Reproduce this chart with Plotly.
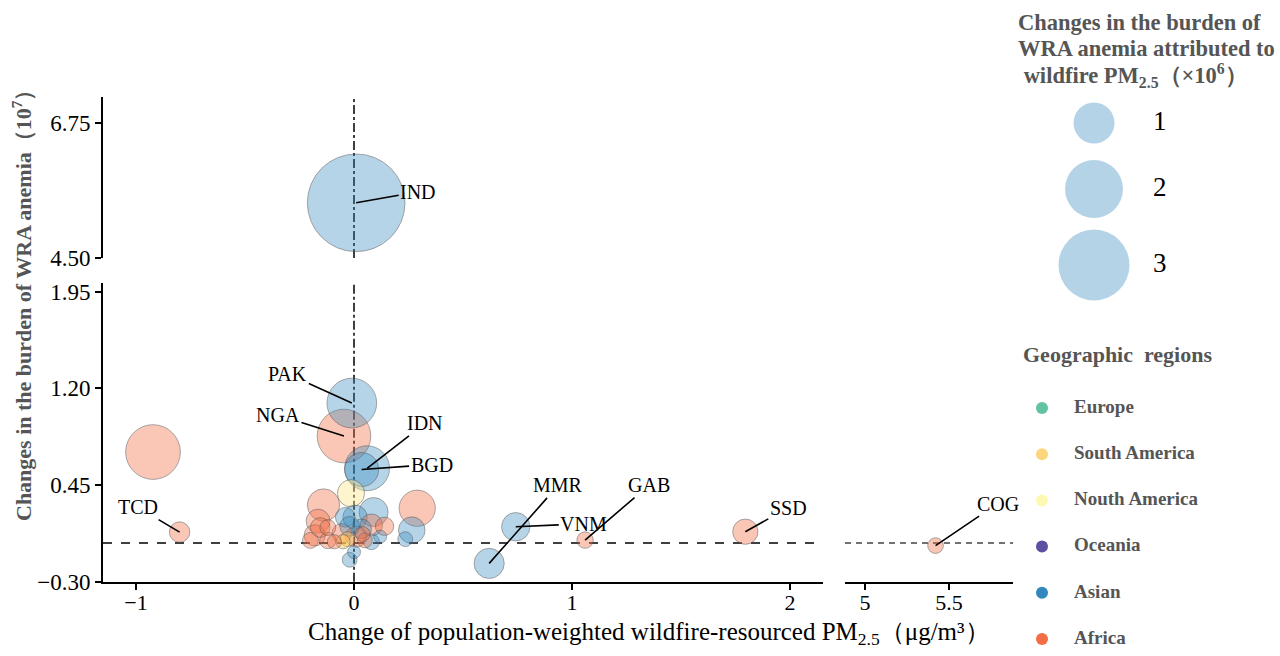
import plotly.graph_objects as go

# ---------------- data ----------------
labels = ["IND", "PAK", "NGA", "", "TCD", "IDN", "BGD", "", "", "",
          "", "", "", "", "", "", "", "", "", "",
          "", "", "", "", "", "", "", "", "", "",
          "VNM", "MMR", "GAB", "SSD", "COG", "",
          "", "", "", "", ""]
regions = ["Asian", "Asian", "Africa", "Africa", "Africa", "Asian", "Asian", "Nouth America", "Africa", "Africa",
           "Asian", "Asian", "Asian", "Asian", "Africa", "Africa", "Africa", "Africa", "Africa", "South America",
           "Africa", "Africa", "Africa", "Asian", "Asian", "Asian", "Africa", "Asian", "Africa", "Asian",
           "Asian", "Asian", "Africa", "Africa", "Africa", "South America",
           "Africa", "Asian", "Africa", "Asian", "Africa"]
pm25_change = [0.01, -0.01, -0.046, -0.922, -0.80, 0.06, 0.035, -0.014, -0.14, 0.29,
               0.265, 0.235, 0.09, 0.005, -0.165, -0.18, -0.20, -0.12, -0.056, -0.05,
               0.01, 0.08, 0.14, 0.08, 0.0, -0.02, -0.09, 0.035, 0.05, -0.04,
               0.742, 0.62, 1.06, 1.795, 5.42, -0.03,
               -0.155, -0.02, 0.04, 0.12, -0.12]
anemia_change = [5.42, 1.086, 0.83, 0.706, 0.085, 0.58, 0.57, 0.386, 0.295, 0.27,
                 0.10, 0.03, 0.24, 0.20, 0.17, 0.06, 0.02, 0.02, 0.075, 0.01,
                 0.05, 0.14, 0.13, 0.01, -0.07, -0.13, 0.01, 0.11, 0.02, 0.20,
                 0.126, -0.158, 0.023, 0.088, -0.02, 0.03,
                 0.12, 0.13, 0.07, 0.05, 0.12]
attributable = [5.67, 1.47, 1.71, 1.78, 0.25, 1.2, 0.69, 0.44, 0.62, 0.78,
                0.42, 0.13, 0.5, 0.35, 0.34, 0.27, 0.15, 0.16, 0.23, 0.12,
                0.27, 0.29, 0.2, 0.15, 0.10, 0.13, 0.12, 0.23, 0.13, 0.23,
                0.48, 0.54, 0.16, 0.38, 0.145, 0.13,
                0.23, 0.23, 0.13, 0.10, 0.15]

# label text offsets (px) from bubble
label_offsets = {"IND": (62, -11), "PAK": (-64, -29), "NGA": (-66, -21), "IDN": (58, -45),
                 "BGD": (70, -5), "TCD": (-42, -25), "MMR": (69, -78), "VNM": (68, -3),
                 "GAB": (64, -55), "SSD": (43, -24), "COG": (62, -42)}

region_names = ["Europe", "South America", "Nouth America", "Oceania", "Asian", "Africa"]
region_colors = ["#62c3a2", "#fdd57d", "#fdf9b2", "#5e4fa2", "#3288bd", "#f46d43"]
bubble_fill = {"Asian": "rgba(50,136,189,0.5)", "Africa": "rgba(244,109,67,0.55)",
               "Nouth America": "rgba(253,231,140,0.6)", "South America": "rgba(250,200,90,0.65)",
               "Europe": "rgba(102,194,165,0.55)", "Oceania": "rgba(94,79,162,0.55)"}

size_legend_values = [1, 2, 3]

# ---------------- figure ----------------
W, H = 1280, 656
FONT = "Liberation Serif"
R1 = 20.5  # radius px for a value of 1
SIZEREF = 1.0 / (2 * R1 ** 2)

fig = go.Figure()

order = sorted(range(len(labels)), key=lambda i: -attributable[i])
for panel in ["upper", "lower", "right"]:
    idx = []
    for i in order:
        if anemia_change[i] > 3:
            p = "upper"
        elif pm25_change[i] > 3:
            p = "right"
        else:
            p = "lower"
        if p == panel:
            idx.append(i)
    xa = "x2" if panel == "right" else "x"
    ya = "y2" if panel == "upper" else "y"
    fig.add_trace(go.Scatter(
        x=[pm25_change[i] for i in idx], y=[anemia_change[i] for i in idx],
        mode="markers", xaxis=xa, yaxis=ya, showlegend=False, cliponaxis=False,
        hoverinfo="skip",
        marker=dict(size=[attributable[i] for i in idx], sizemode="area", sizeref=SIZEREF,
                    color=[bubble_fill[regions[i]] for i in idx],
                    line=dict(color="rgba(80,80,80,0.7)", width=1))))

# labels with leader lines
annotations = []
for i, lab in enumerate(labels):
    if not lab:
        continue
    dx, dy = label_offsets[lab]
    xr = "x2" if pm25_change[i] > 3 else "x"
    yr = "y2" if anemia_change[i] > 3 else "y"
    annotations.append(dict(x=pm25_change[i], y=anemia_change[i], xref=xr, yref=yr,
                            text=lab, showarrow=True, ax=dx, ay=dy, arrowhead=0,
                            arrowwidth=1.6, arrowcolor="black", standoff=0,
                            font=dict(family=FONT, size=20, color="black")))

# size legend (hidden pixel-coordinate axis)
size_leg_y = [123, 189, 265]
fig.add_trace(go.Scatter(
    x=[1094] * 3, y=size_leg_y, xaxis="x3", yaxis="y3", mode="markers",
    showlegend=False, hoverinfo="skip", cliponaxis=False,
    marker=dict(size=size_legend_values, sizemode="area", sizeref=SIZEREF,
                color="#94c0dd", line=dict(width=0))))
fig.add_trace(go.Scatter(
    x=[1153] * 3, y=size_leg_y, xaxis="x3", yaxis="y3", mode="text",
    text=[str(v) for v in size_legend_values], textposition="middle right",
    showlegend=False, hoverinfo="skip", cliponaxis=False,
    textfont=dict(family=FONT, size=27, color="black")))

# region legend
reg_y = [408 + 46.2 * k for k in range(len(region_names))]
fig.add_trace(go.Scatter(
    x=[1042] * len(region_names), y=reg_y, xaxis="x3", yaxis="y3", mode="markers",
    showlegend=False, hoverinfo="skip", cliponaxis=False,
    marker=dict(size=12, color=region_colors, line=dict(width=0))))
fig.add_trace(go.Scatter(
    x=[1074] * len(region_names), y=reg_y, xaxis="x3", yaxis="y3", mode="text",
    text=["<b>%s</b>" % r for r in region_names], textposition="middle right",
    showlegend=False, hoverinfo="skip", cliponaxis=False,
    textfont=dict(family=FONT, size=19, color="#555555")))

GRAY = "#555555"
title_lines = ["<b>Changes in the burden of</b>", "<b>WRA anemia attributed to</b>",
               "<b> wildfire PM<sub>2.5</sub>（×10<sup>6</sup>）</b>"]
for k, t in enumerate(title_lines):
    annotations.append(dict(x=1016 / W, y=1 - (22 + 26.5 * k) / H, xref="paper", yref="paper",
                            xanchor="left", yanchor="middle", showarrow=False, text=t,
                            font=dict(family=FONT, size=22.5, color=GRAY)))
annotations.append(dict(x=1117 / W, y=1 - 354 / H, xref="paper", yref="paper", showarrow=False,
                        xanchor="center", yanchor="middle",
                        text="<b>Geographic\u00a0 regions</b>",
                        font=dict(family=FONT, size=22, color=GRAY)))
# axis titles
annotations.append(dict(x=22 / W, y=1 - 300 / H, xref="paper", yref="paper", showarrow=False,
                        xanchor="center", yanchor="middle", textangle=-90,
                        text="<b>Changes in the burden of WRA anemia（10<sup>7</sup>）</b>",
                        font=dict(family=FONT, size=22, color=GRAY)))
annotations.append(dict(x=649 / W, y=1 - 633 / H, xref="paper", yref="paper", showarrow=False,
                        xanchor="center", yanchor="middle",
                        text="Change of population-weighted wildfire-resourced PM<sub>2.5</sub>（μg/m³）",
                        font=dict(family=FONT, size=25, color="black")))

shapes = [
    dict(type="line", xref="x", yref="y domain", x0=0, x1=0, y0=0, y1=1,
         line=dict(color="black", width=1.5, dash="dashdot"), layer="below"),
    dict(type="line", xref="x", yref="y2 domain", x0=0, x1=0, y0=0, y1=1,
         line=dict(color="black", width=1.5, dash="dashdot"), layer="below"),
    dict(type="line", xref="x domain", yref="y", x0=0, x1=1, y0=0, y1=0,
         line=dict(color="black", width=1.5, dash="dash"), layer="below"),
    dict(type="line", xref="x2 domain", yref="y", x0=0, x1=1, y0=0, y1=0,
         line=dict(color="#444444", width=1.4, dash="6px,5px"), layer="below"),
]

axis_common = dict(showgrid=False, zeroline=False, showline=True, linecolor="black", linewidth=1.8,
                   ticks="outside", ticklen=6, tickwidth=1.5, tickcolor="black",
                   fixedrange=True, automargin=False)
yfont = dict(family=FONT, size=23, color="black")
xfont = dict(family=FONT, size=22, color="black")

x_left = (103, 823)
x_right = (845, 1013)
y_low = (581.7, 283)
y_up = (258, 97)


def px2x(px, x0px, x0val, scale):
    return x0val + (px - x0px) / scale


fig.update_layout(
    width=W, height=H, autosize=False, margin=dict(l=0, r=0, t=0, b=0, pad=0, autoexpand=False),
    font=dict(family=FONT, color="black"),
    paper_bgcolor="white", plot_bgcolor="rgba(0,0,0,0)",
    xaxis=dict(domain=[x_left[0] / W, x_left[1] / W], anchor="y",
               range=[px2x(x_left[0], 354, 0, 218), px2x(x_left[1], 354, 0, 218)],
               tickvals=[-1, 0, 1, 2], ticktext=["−1", "0", "1", "2"],
               tickfont=xfont, ticklabelstandoff=-6, **axis_common),
    xaxis2=dict(domain=[x_right[0] / W, x_right[1] / W], anchor="y",
                range=[px2x(x_right[0], 865, 5, 168), px2x(x_right[1], 865, 5, 168)],
                tickvals=[5, 5.5], ticktext=["5", "5.5"],
                tickfont=xfont, ticklabelstandoff=-6, **axis_common),
    yaxis=dict(domain=[1 - y_low[0] / H, 1 - y_low[1] / H], anchor="x",
               range=[-0.30, -0.30 + (y_low[0] - y_low[1]) / 128.9],
               tickvals=[-0.30, 0.45, 1.20, 1.95], tickformat=".2f", tickfont=yfont, **axis_common),
    yaxis2=dict(domain=[1 - y_up[0] / H, 1 - y_up[1] / H], anchor="x",
                range=[4.50, 4.50 + (y_up[0] - y_up[1]) / 60.0],
                tickvals=[4.50, 6.75], tickformat=".2f", tickfont=yfont, **axis_common),
    xaxis3=dict(domain=[1011 / W, 1], range=[1011, W], visible=False, fixedrange=True, anchor="y3"),
    yaxis3=dict(domain=[0, 1], range=[H, 0], visible=False, fixedrange=True, anchor="x3"),
    annotations=annotations, shapes=shapes,
)

# no body margin; keep the figure at its fixed size
post = ("document.documentElement.style.margin='0';document.body.style.margin='0';"
        "document.documentElement.style.overflow='hidden';document.body.style.overflow='hidden';")
fig.write_html("out.html", config={"displayModeBar": False, "responsive": False}, post_script=post)
